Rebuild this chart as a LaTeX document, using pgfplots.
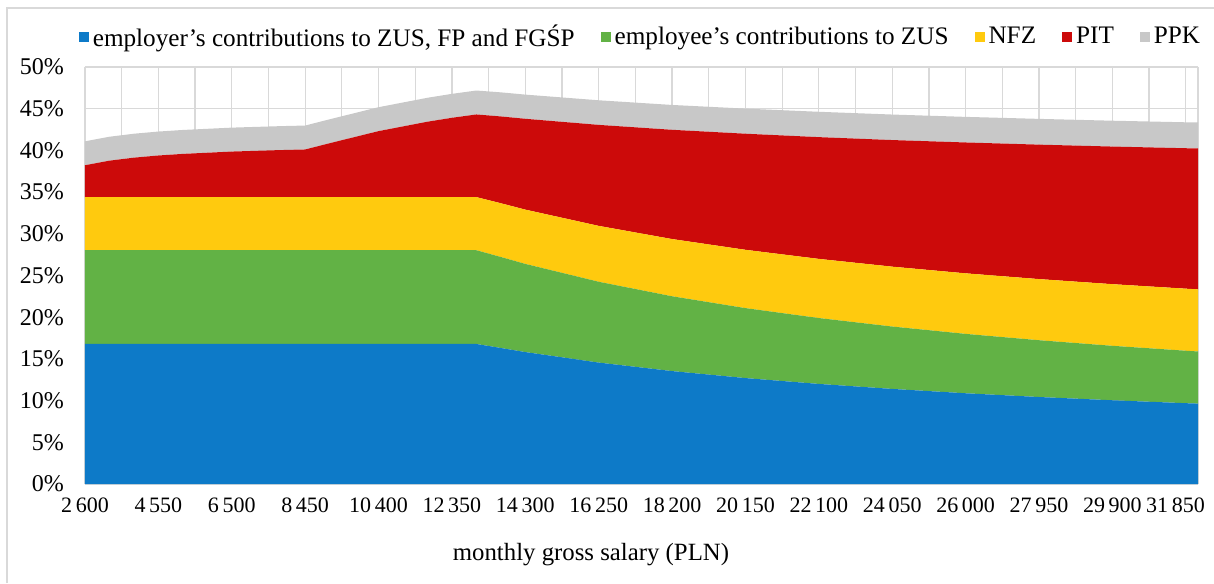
\documentclass[border=0pt]{standalone}
\usepackage{pgfplots}
\pgfplotsset{compat=1.18}
\usepackage{pgfplotstable}
\usepackage{fontspec}
\setmainfont{Liberation Serif}
\definecolor{cER}{HTML}{0D7AC8}
\definecolor{cEE}{HTML}{62B245}
\definecolor{cNFZ}{HTML}{FFCA0E}
\definecolor{cPIT}{HTML}{CC0A0A}
\definecolor{cPPK}{HTML}{C8C8C8}
\definecolor{cGrid}{HTML}{D9D9D9}

\pgfplotstableread{
x er ee nfz pit ppk
2600 16.79 11.24 6.37 3.82 2.87
3250 16.79 11.24 6.37 4.37 2.87
3900 16.79 11.24 6.37 4.73 2.87
4550 16.79 11.24 6.37 4.99 2.87
5200 16.79 11.24 6.37 5.18 2.87
6500 16.79 11.24 6.37 5.46 2.87
7800 16.79 11.24 6.37 5.64 2.87
8450 16.79 11.24 6.37 5.71 2.87
9100 16.79 11.24 6.37 6.46 2.87
10400 16.79 11.24 6.37 7.91 2.87
11700 16.79 11.24 6.37 9.04 2.87
12350 16.79 11.24 6.37 9.51 2.87
13000 16.79 11.24 6.37 9.91 2.87
13650 16.31 10.91 6.44 10.41 2.89
14300 15.82 10.57 6.51 10.89 2.90
16250 14.56 9.69 6.70 12.11 2.95
18200 13.54 8.97 6.86 13.10 2.98
20150 12.70 8.39 6.99 13.92 3.01
22100 12.00 7.90 7.09 14.60 3.04
24050 11.40 7.48 7.18 15.18 3.06
26000 10.88 7.12 7.26 15.69 3.07
27950 10.43 6.81 7.33 16.12 3.09
29900 10.04 6.53 7.39 16.50 3.10
31850 9.69 6.29 7.44 16.84 3.11
32175 9.64 6.25 7.45 16.89 3.12
}\datatable

\begin{document}
\begin{tikzpicture}
\path[use as bounding box] (0pt,0pt) rectangle (607pt,291.5pt);
\draw[cGrid, line width=0.6pt] (3.5pt,0pt) -- (3.5pt,287.5pt) -- (607pt,287.5pt);
\begin{axis}[
  at={(42.5pt,49.5pt)}, anchor=south west,
  scale only axis, width=556.5pt, height=208.5pt,
  xmin=2600, xmax=32175, ymin=0, ymax=50,
  stack plots=y, area style, axis on top=false,
  axis line style={draw=none},
  scaled x ticks=false,
  xtick={2600,4550,6500,8450,10400,12350,14300,16250,18200,20150,22100,24050,26000,27950,29900,31850},
  xticklabels={2\,600,4\,550,6\,500,8\,450,10\,400,12\,350,14\,300,16\,250,18\,200,20\,150,22\,100,24\,050,26\,000,27\,950,29\,900,\makebox[0pt][r]{31\,850\hspace*{-9.5pt}}},
  minor x tick num=1,
  extra x ticks={32175}, extra x tick labels={},
  extra x tick style={grid=major},
  ytick={0,5,10,15,20,25,30,35,40,45,50},
  yticklabels={0\%,5\%,10\%,15\%,20\%,25\%,30\%,35\%,40\%,45\%,50\%},
  grid=both,
  major grid style={cGrid, line width=0.6pt},
  minor grid style={cGrid, line width=0.6pt},
  major tick length=0pt, minor tick length=0pt,
  tick label style={font=\fontsize{12}{14}\selectfont, text=black},
  xticklabel style={yshift=-3.5pt, font=\fontsize{11}{14}\selectfont},
  yticklabel style={xshift=-7pt},
  xlabel={monthly gross salary (PLN)},
  xlabel style={at={(axis description cs:0.4546,0)}, anchor=center, yshift=-35.5pt, font=\fontsize{12.4}{14}\selectfont},
  legend columns=5,
  legend style={draw=none, fill=none, at={(axis description cs:0.5,1)}, anchor=center, yshift=15pt,
    font=\fontsize{12.6}{15}\selectfont, inner sep=0pt,
    /tikz/every even column/.append style={column sep=11pt}},
  legend image code/.code={\fill[#1] (0pt,-2.5pt) rectangle (5pt,2.5pt);},
]
\addplot[fill=cER, draw=none] table[x=x,y=er]{\datatable} \closedcycle;
\addlegendentry{employer’s contributions to ZUS, FP and FGŚP}
\addplot[fill=cEE, draw=none] table[x=x,y=ee]{\datatable} \closedcycle;
\addlegendentry{employee’s contributions to ZUS}
\addplot[fill=cNFZ, draw=none] table[x=x,y=nfz]{\datatable} \closedcycle;
\addlegendentry{NFZ}
\addplot[fill=cPIT, draw=none] table[x=x,y=pit]{\datatable} \closedcycle;
\addlegendentry{PIT}
\addplot[fill=cPPK, draw=none] table[x=x,y=ppk]{\datatable} \closedcycle;
\addlegendentry{PPK}
\end{axis}
\end{tikzpicture}
\end{document}
